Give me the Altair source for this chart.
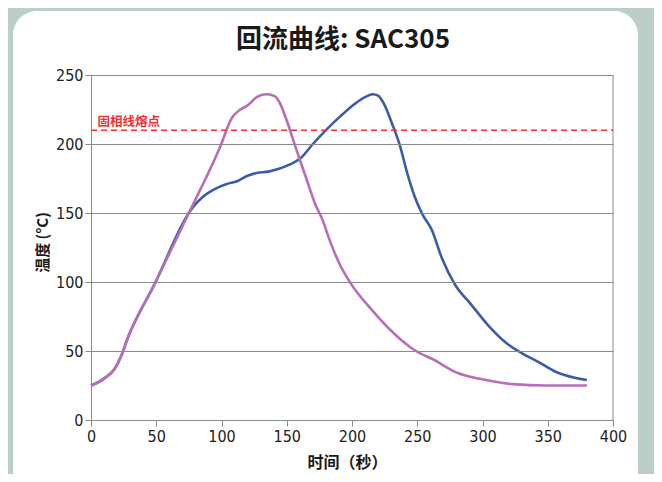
import altair as alt
import pandas as pd

# ---- data ----
purple_t = [0, 10, 18, 23, 28, 49, 75, 99, 108, 113, 120, 127, 134, 140, 144, 150, 157,
            165, 172, 177, 183, 190, 199, 215, 233, 249, 262, 281, 297, 323, 349, 380]
purple_y = [25, 30, 37, 46, 59, 99, 150, 198, 219, 224, 228, 234, 236, 235, 231, 217, 197,
            175, 156, 146, 130, 114, 99, 80, 62, 50, 44, 34, 30, 26, 25, 25]

blue_t = [0, 10, 18, 23, 28, 49, 75, 78, 86, 94, 104, 112, 120, 127, 136, 144, 152, 161,
          170, 181, 191, 202, 210, 216, 220, 224, 231, 237, 242, 248, 254, 261, 269, 279,
          291, 304, 318, 331, 343, 356, 380]
blue_y = [25, 30, 37, 46, 59, 99, 150, 154, 162, 167, 171, 173, 177, 179, 180, 182, 185, 190,
          200, 211, 220, 229, 234, 236, 235, 230, 214, 198, 180, 162, 149, 138, 117, 98,
          84, 69, 56, 48, 42, 35, 29]

chart_title = ["回流曲线: SAC305"]
solidus_value = [210]
solidus_label = ["固相线熔点"]
x_ticks = [0, 50, 100, 150, 200, 250, 300, 350, 400]
y_ticks = [0, 50, 100, 150, 200, 250]

series_names = ["blue", "purple"]
series_colors = ["#3a5daa", "#b76fb8"]

df = pd.concat([
    pd.DataFrame({"t": blue_t, "temp": blue_y, "s": "blue"}),
    pd.DataFrame({"t": purple_t, "temp": purple_y, "s": "purple"}),
])
ref = pd.DataFrame({"v": solidus_value, "label": solidus_label, "t0": [0], "t1": [400], "tl": [5]})
frame = pd.DataFrame({"x": [max(x_ticks)], "y0": [min(y_ticks)], "y1": [max(y_ticks)]})

W, H = 522, 345

xscale = alt.Scale(domain=[0, 400], nice=False)
yscale = alt.Scale(domain=[0, 250], nice=False)

label_font = "DejaVu Sans Condensed"
cjk = "Noto Sans CJK SC"

panel = alt.Chart(pd.DataFrame({"a": [0]})).mark_rect(
    fill="white", cornerRadius=24
).encode(
    x=alt.value(-78), x2=alt.value(547), y=alt.value(-64), y2=alt.value(420)
)

title = alt.Chart(pd.DataFrame({"title": chart_title})).mark_text(
    font=cjk, fontSize=26, fontWeight="bold", color="#1a1a1a", align="center", baseline="middle"
).encode(
    x=alt.value(252), y=alt.value(-35), text="title:N"
)

lines = alt.Chart(df).mark_line(strokeWidth=2.6, interpolate="monotone").encode(
    x=alt.X("t:Q", scale=xscale,
            axis=alt.Axis(values=x_ticks, title="时间（秒）", grid=False, zindex=1, labelFlush=False,
                          titleX=256, titleY=42, titleBaseline="middle", titleAlign="center",
                          titleFontSize=16)),
    y=alt.Y("temp:Q", scale=yscale,
            axis=alt.Axis(values=y_ticks, title="温度 (°C)", grid=True, zindex=1, labelFlush=False,
                          titleX=-49, titleY=167, titleAngle=-90,
                          titleBaseline="middle", titleAlign="center")),
    color=alt.Color("s:N", scale=alt.Scale(domain=series_names, range=series_colors), legend=None),
    detail="s:N",
)

border = alt.Chart(frame).mark_rule(color="#8a8a8a", strokeWidth=1).encode(
    x=alt.X("x:Q", scale=xscale), y=alt.Y("y0:Q", scale=yscale), y2="y1:Q"
)

rule = alt.Chart(ref).mark_rule(color="#ee3333", strokeWidth=1.5, strokeDash=[6, 4]).encode(
    x=alt.X("t0:Q", scale=xscale), x2="t1:Q", y=alt.Y("v:Q", scale=yscale)
)

label = alt.Chart(ref).mark_text(
    align="left", baseline="bottom", dy=-1, font=cjk, fontSize=12.5, fontWeight="bold", color="#ee3333"
).encode(
    x=alt.X("tl:Q", scale=xscale), y=alt.Y("v:Q", scale=yscale), text="label:N"
)

chart = alt.layer(panel, title, border, lines, rule, label).properties(
    width=W, height=H,
    autosize=alt.AutoSizeParams(type="none"),
    padding={"left": 83, "top": 67, "right": 41, "bottom": 54},
).configure(
    background="#bccfc7",
).configure_view(
    strokeOpacity=0,
).configure_axis(
    domainColor="#8a8a8a", tickColor="#8a8a8a", gridColor="#8a8a8a", gridWidth=1,
    tickSize=6, labelFont=label_font, labelFontSize=16, labelColor="#222222", labelPadding=2,
    titleFont=cjk, titleFontSize=15, titleFontWeight="bold", titleColor="#1a1a1a",
)

chart.save("out.html", embed_options={"renderer": "svg", "actions": False})
